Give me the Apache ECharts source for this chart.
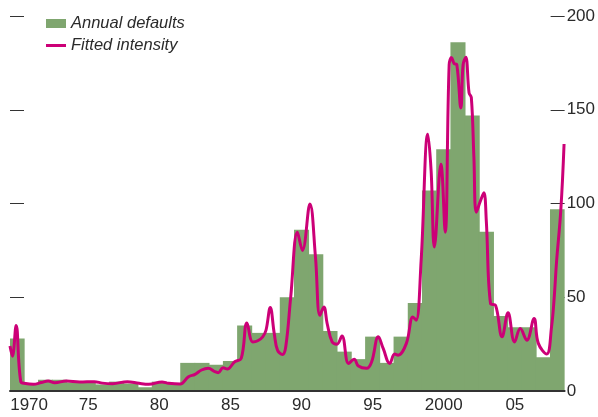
<!DOCTYPE html>
<html>
<head>
<meta charset="utf-8">
<script src="https://cdn.jsdelivr.net/npm/echarts@6/dist/echarts.min.js"></script>
<style>
    html, body { margin: 0; padding: 0; background: #fff; }
    #chart { width: 598px; height: 417px; }
</style>
</head>
<body>
<div id="chart"></div>
<script>
    // annual default counts, one bar per year
    var years = [1970,1971,1972,1973,1974,1975,1976,1977,1978,1979,
                 1980,1981,1982,1983,1984,1985,1986,1987,1988,1989,
                 1990,1991,1992,1993,1994,1995,1996,1997,1998,1999,
                 2000,2001,2002,2003,2004,2005,2006,2007,2008]
    var defaults = [28,4,6,6,4.5,4.5,3.5,5,4,2,
                    5,4,15,15,14,16,35,31,31,50,
                    86,73,32,21,17,29,15,29,47,107,
                    129,186,147,85,40,34,34,18,97]

    // fitted intensity (time in years, value)
    var fitT = [1969.5,1969.67,1969.93,1970.26,1970.6,1971.14,1971.7,1972.18,1972.65,1973.46,
                1974.39,1975.43,1976.0,1976.71,1977.75,1978.57,1979.26,1980.19,1980.65,1981.47,
                1982.05,1982.51,1982.97,1983.44,1983.9,1984.14,1984.48,1984.78,1985.3,1985.76,
                1986.16,1986.57,1986.92,1987.27,1987.5,1987.8,1988.08,1988.31,1988.66,1988.89,
                1989.24,1989.71,1990.06,1990.59,1990.98,1991.29,1991.57,1991.8,1992.15,1992.49,
                1992.84,1993.31,1993.7,1994.0,1994.58,1994.93,1995.4,1995.74,1996.2,1996.55,
                1996.79,1997.37,1997.83,1998.06,1998.41,1998.88,1999.11,1999.34,1999.8,2000.1,
                2000.38,2000.55,2000.73,2000.92,2001.2,2001.36,2001.55,2001.78,2001.94,2002.12,
                2002.29,2002.59,2002.82,2002.99,2003.29,2003.64,2004.1,2004.52,2004.98,2005.38,
                2005.84,2006.35,2006.65,2007.24,2007.58,2007.77,2007.93,2008.23,2008.46]
    var fitV = [24,18.6,35,5,4,3.6,4.5,5.3,4.4,5.3,
                4.8,5,4.2,3.9,5,4.1,3.6,4.8,4.1,3.7,
                7.6,8.9,11.2,12.1,10.3,9.8,12.4,11.7,15.6,17.4,
                36.3,26.2,26.8,28.9,32.4,44.5,30.7,21.8,19.5,23.6,
                50.2,84.7,75,99.8,71.4,40.4,44.8,36,26.2,25,
                29.3,14.7,16.9,13.3,12.1,15.6,28.9,22.7,14.7,19.7,
                19.1,25.4,39.5,37.8,69.7,137,117.6,76.8,121,84.7,
                174,177.8,174.6,174,151,174,178,159,156.5,124.6,
                95.4,101.6,105.7,91,46.6,45.7,28.9,41.7,26.2,33.3,
                27.1,38.7,25.4,19.7,34.2,50.2,68.8,96.3,131.7]

    // tick labels
    var labelYears = [1970,1975,1980,1985,1990,1995,2000,2005]
    var xLabels = ['1970','75','80','85','90','95','2000','05']
    var yTicks = [0,50,100,150,200]

    var fitData = []
    for (var i = 0; i < fitT.length; i++) {
        fitData.push([fitT[i], fitV[i]])
    }

    var font = "'Liberation Sans', Arial, sans-serif"
    var textColor = '#2a2a2a'
    var green = '#7fa66f'

    var option = {
        animation: false,
        grid: {
            left: 10,
            right: 28,
            top: 16,
            bottom: 26,
            containLabel: false
        },
        legend: {
            orient: 'vertical',
            left: 46,
            top: 15,
            padding: 0,
            itemWidth: 20,
            itemHeight: 9,
            itemGap: 5,
            textStyle: {
                color: textColor,
                fontFamily: font,
                fontStyle: 'italic',
                fontSize: 16.5,
                lineHeight: 17
            },
            data: [
                {name: 'Annual defaults', icon: 'rect'},
                {name: 'Fitted intensity', icon: 'path://M0,0H20V3H0Z'}
            ]
        },
        xAxis: [
            {
                type: 'category',
                data: years,
                boundaryGap: true,
                axisLine: {
                    lineStyle: {color: '#333', width: 2}
                },
                axisTick: {show: false},
                axisLabel: {
                    interval: 0,
                    margin: 6,
                    color: textColor,
                    fontFamily: font,
                    fontSize: 17,
                    formatter: function (value) {
                        var idx = labelYears.indexOf(+value)
                        if (idx < 0) return ''
                        if (idx == 0) return '{first|' + xLabels[idx] + '}'
                        return xLabels[idx]
                    },
                    rich: {
                        first: {
                            fontFamily: font,
                            fontSize: 17,
                            color: textColor,
                            padding: [0, 0, 0, 24]
                        }
                    }
                },
                splitLine: {show: false},
                z: 5
            },
            {
                type: 'value',
                min: 1969.5,
                max: 2008.5,
                show: false
            }
        ],
        yAxis: [
            {
                type: 'value',
                position: 'left',
                min: yTicks[0],
                max: yTicks[yTicks.length - 1],
                interval: yTicks[1] - yTicks[0],
                axisLine: {show: false},
                axisTick: {
                    show: true,
                    inside: true,
                    length: 14,
                    lineStyle: {color: '#333', width: 1}
                },
                axisLabel: {show: false},
                splitLine: {show: false}
            },
            {
                type: 'value',
                position: 'right',
                min: yTicks[0],
                max: yTicks[yTicks.length - 1],
                interval: yTicks[1] - yTicks[0],
                axisLine: {show: false},
                axisTick: {
                    show: true,
                    inside: true,
                    length: 14,
                    lineStyle: {color: '#333', width: 1}
                },
                axisLabel: {
                    margin: 2,
                    color: textColor,
                    fontFamily: font,
                    fontSize: 17
                },
                splitLine: {show: false}
            }
        ],
        series: [
            {
                name: 'Annual defaults',
                type: 'bar',
                xAxisIndex: 0,
                yAxisIndex: 1,
                barWidth: '106%',
                itemStyle: {
                    color: green
                },
                data: defaults
            },
            {
                name: 'Fitted intensity',
                type: 'line',
                xAxisIndex: 1,
                yAxisIndex: 1,
                smooth: 0.4,
                showSymbol: false,
                symbol: 'none',
                itemStyle: {color: '#cc0077'},
                lineStyle: {color: '#cc0077', width: 3},
                data: fitData,
                z: 3
            }
        ]
    }

    var myChart = echarts.init(document.getElementById('chart'))
    myChart.setOption(option)
</script>
</body>
</html>
